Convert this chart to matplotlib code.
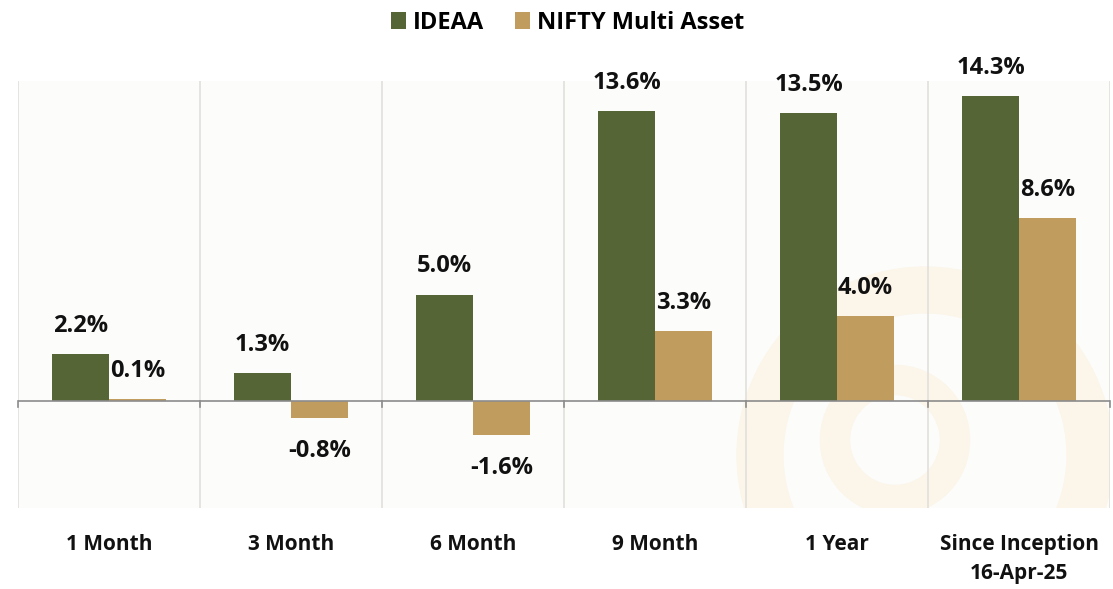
import numpy as np
import matplotlib
matplotlib.use('Agg')
import matplotlib.pyplot as plt
import matplotlib.patches as patches

categories = ['1 Month', '3 Month', '6 Month', '9 Month', '1 Year', 'Since Inception\n16-Apr-25']
ideaa = [2.2, 1.3, 5.0, 13.6, 13.5, 14.3]
nifty = [0.1, -0.8, -1.6, 3.3, 4.0, 8.6]
series_names = ['IDEAA', 'NIFTY Multi Asset']

green = '#566535'
tan = '#c09c5e'

plt.rcParams['font.family'] = ['Open Sans', 'DejaVu Sans']

W, H = 1113, 589
fig = plt.figure(figsize=(W/100, H/100), dpi=100)
ax = fig.add_axes([18/W, 1 - 508/H, (1110-18)/W, (508-81)/H])
ax.set_facecolor('#fcfcfa')

# faint watermark logo, bottom right (figure pixel coords)
for (cx, cy, r, lw) in [(925, 455, 165, 34), (895, 440, 60, 22)]:
    ring = patches.Ellipse((cx/W, 1 - cy/H), 2*r/W, 2*r/H, fill=False,
                           ec='#fbf5ea', lw=lw, transform=fig.transFigure, zorder=0.5)
    ax.add_artist(ring)

x = np.arange(len(categories))
w = 0.313
b1 = ax.bar(x - w/2, ideaa, w, color=green, label=series_names[0], zorder=3)
b2 = ax.bar(x + w/2, nifty, w, color=tan, label=series_names[1], zorder=3)

for bars, vals in [(b1, ideaa), (b2, nifty)]:
    for r, v in zip(bars, vals):
        cx = r.get_x() + r.get_width()/2
        if v >= 0:
            ax.text(cx, v + 0.75, f'{v:.1f}%', ha='center', va='bottom',
                    fontsize=17, fontweight='bold', color='#111111')
        else:
            ax.text(cx, v - 0.95, f'{v:.1f}%', ha='center', va='top',
                    fontsize=17, fontweight='bold', color='#111111')

ax.set_xlim(-0.5, len(categories) - 0.5)
ax.set_ylim(-5, 15)
for xv in np.arange(-0.5, len(categories), 1.0):
    ax.axvline(xv, color='#e2e0dc', lw=1.2, zorder=1)
ax.axhline(0, color='#8c8c8c', lw=1.2, zorder=4)
for xv in np.arange(-0.5, len(categories), 1.0):
    ax.plot([xv, xv], [0, -0.25], color='#8c8c8c', lw=1.2, zorder=4, clip_on=False)

for s in ax.spines.values():
    s.set_visible(False)
ax.set_yticks([])
ax.set_xticks(x)
ax.set_xticklabels(categories, fontsize=15, fontweight='bold', color='#111111', linespacing=1.45)
ax.tick_params(axis='x', length=0, pad=19)

fig.legend(loc='upper center', bbox_to_anchor=(0.51, 1.018), ncol=2, frameon=False,
           prop={'size': 17, 'weight': 'bold'}, handlelength=0.65, handleheight=0.75,
           handletextpad=0.3, columnspacing=1.3)

fig.savefig('out.png', dpi=100)
